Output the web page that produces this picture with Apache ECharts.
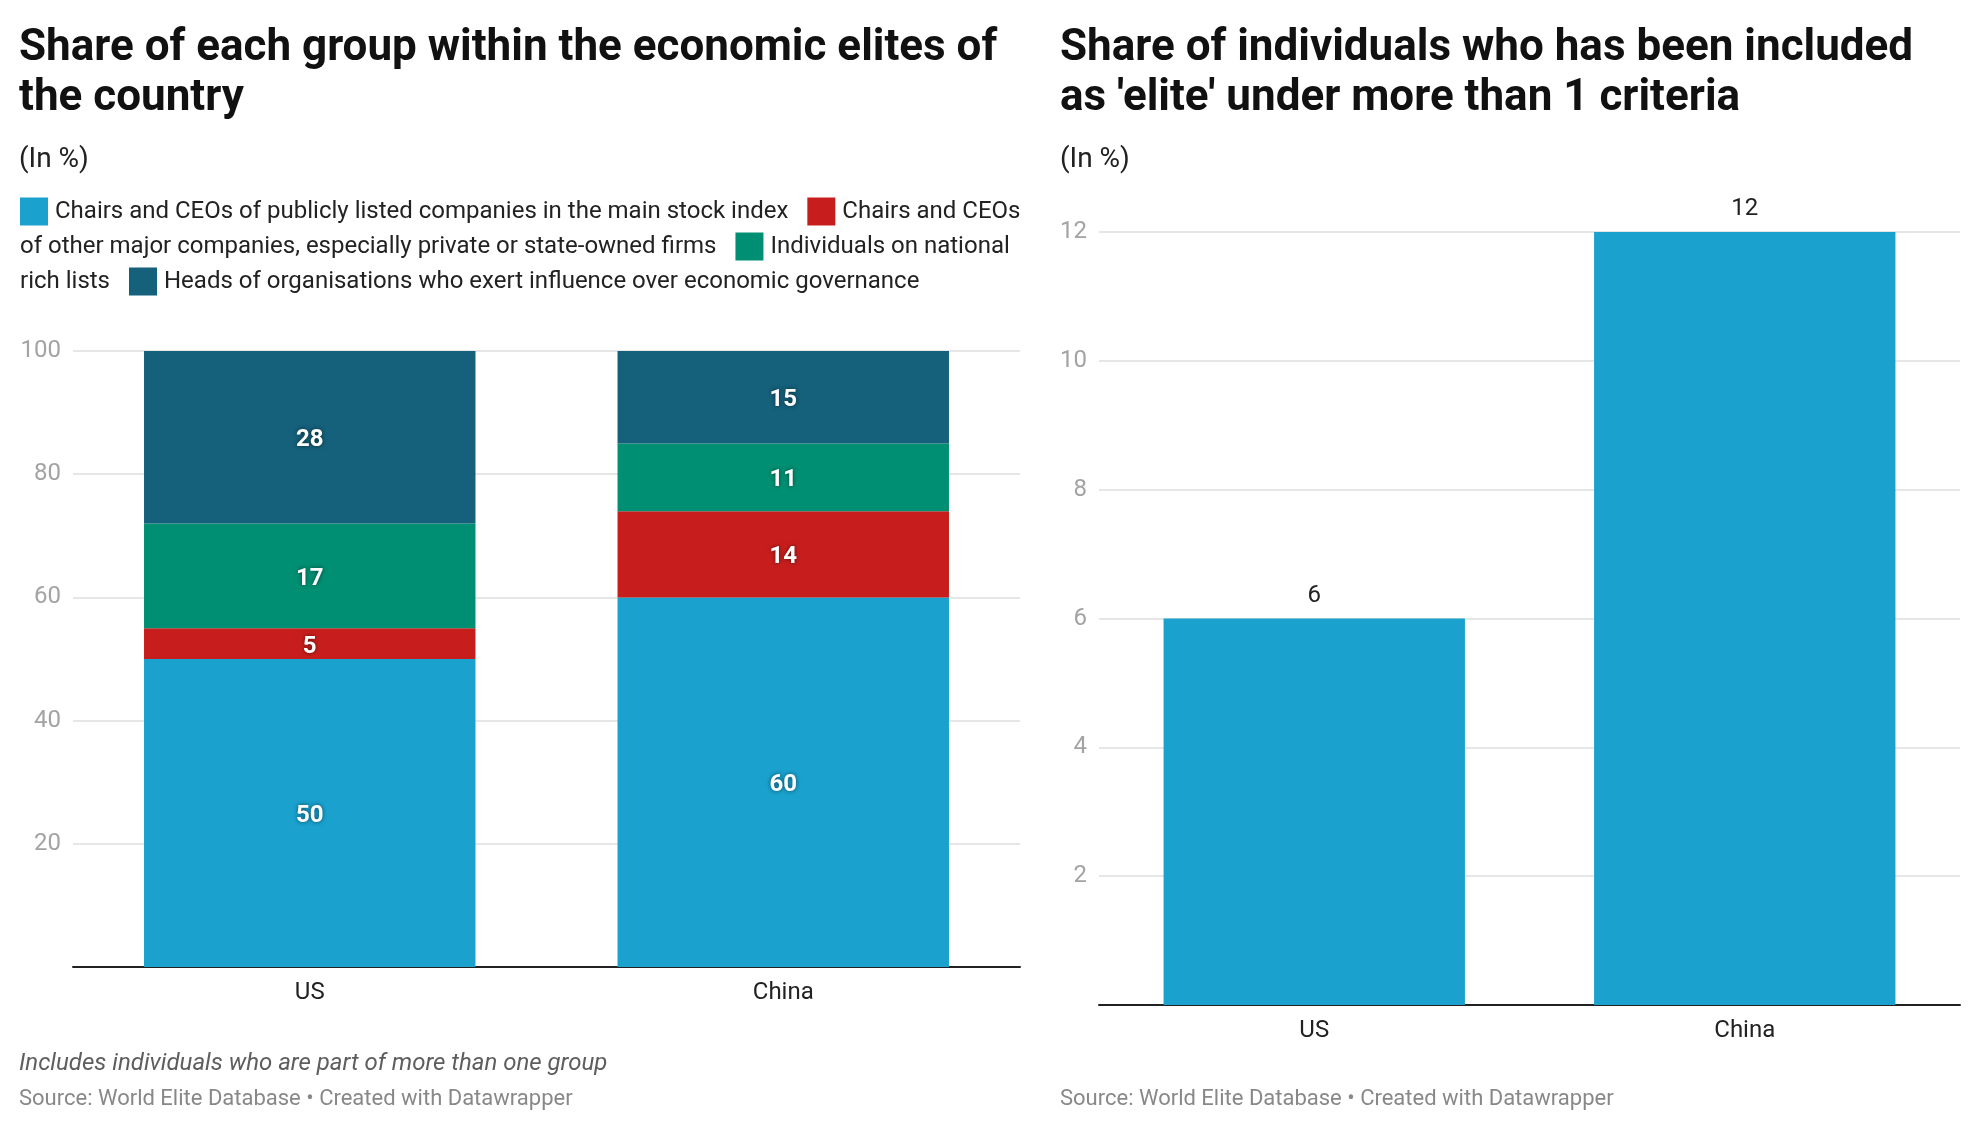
<!DOCTYPE html>
<html>
<head>
<meta charset="utf-8">
<script src="https://cdn.jsdelivr.net/npm/echarts@6/dist/echarts.min.js"></script>
<style>
  html, body { margin: 0; padding: 0; background: #fff; }
  #chart { width: 1980px; height: 1130px; }
</style>
</head>
<body>
<div id="chart"></div>
<script>
// data
const countries = ['US', 'China'];
const groupNames = [
  'Chairs and CEOs of publicly listed companies in the main stock index',
  'Chairs and CEOs of other major companies, especially private or state-owned firms',
  'Individuals on national rich lists',
  'Heads of organisations who exert influence over economic governance'
];
const listedCeos = [50, 60];
const otherCeos = [5, 14];
const richLists = [17, 11];
const orgHeads = [28, 15];
const multiCriteria = [6, 12];

const groupColors = ['#1aa1cd', '#c71e1d', '#008f72', '#15607a'];
const font = 'Roboto';

const chart = echarts.init(document.getElementById('chart'));

// legend squares as rich text blocks
const rich = { g1: { width: 7 }, g2: { width: 19 } };
groupColors.forEach((c, i) => {
  rich['s' + i] = { width: 28, height: 28, backgroundColor: c, verticalAlign: 'middle' };
});
const legendText = [
  '{s0|}{g1|}' + groupNames[0] + '{g2|}{s1|}{g1|}Chairs and CEOs',
  'of other major companies, especially private or state-owned firms{g2|}{s2|}{g1|}Individuals on national',
  'rich lists{g2|}{s3|}{g1|}' + groupNames[3]
].join('\n');

const stacked = [listedCeos, otherCeos, richLists, orgHeads].map((vals, i) => ({
  name: groupNames[i],
  type: 'bar',
  stack: 'elite',
  xAxisIndex: 0,
  yAxisIndex: 0,
  data: vals,
  barCategoryGap: '30%',
  itemStyle: { color: groupColors[i] },
  label: {
    show: true,
    position: 'inside',
    offset: [0, 3],
    color: '#fff',
    fontFamily: font,
    fontWeight: 'bold',
    fontSize: 24,
    textShadowColor: 'rgba(0,0,0,0.55)',
    textShadowBlur: 4
  }
}));

const titleStyle = { fontFamily: font, fontWeight: 'bold', fontSize: 44, lineHeight: 50, color: '#111' };
const subStyle = { fontFamily: font, fontWeight: 'normal', fontSize: 28, color: '#222' };
const sourceStyle = { fontFamily: font, fontWeight: 'normal', fontSize: 22, color: '#888' };

chart.setOption({
  animation: false,
  title: [
    { text: 'Share of each group within the economic elites of\nthe country', left: 14, top: 19, textStyle: titleStyle },
    { text: "Share of individuals who has been included\nas 'elite' under more than 1 criteria", left: 1055, top: 19, textStyle: titleStyle },
    { text: '(In %)', left: 14, top: 141, textStyle: subStyle },
    { text: '(In %)', left: 1055, top: 141, textStyle: subStyle },
    { text: 'Includes individuals who are part of more than one group', left: 14, top: 1047,
      textStyle: { fontFamily: font, fontStyle: 'italic', fontWeight: 'normal', fontSize: 24, color: '#5e5e5e' } },
    { text: 'Source: World Elite Database • Created with Datawrapper', left: 14, top: 1083, textStyle: sourceStyle },
    { text: 'Source: World Elite Database • Created with Datawrapper', left: 1055, top: 1083, textStyle: sourceStyle }
  ],
  graphic: [{
    type: 'text',
    left: 20,
    top: 194,
    style: {
      text: legendText,
      rich: rich,
      fontFamily: font,
      fontSize: 24,
      lineHeight: 35,
      fill: '#222'
    }
  }],
  grid: [
    { left: 73, right: 960, top: 351, bottom: 163 },
    { left: 1099, right: 20, top: 232, bottom: 125 }
  ],
  xAxis: [0, 1].map(i => ({
    type: 'category',
    gridIndex: i,
    data: countries,
    axisLine: { lineStyle: { color: '#222', width: 2 } },
    axisTick: { show: false },
    axisLabel: { color: '#222', fontFamily: font, fontSize: 24, margin: 14 }
  })),
  yAxis: [
    { type: 'value', gridIndex: 0, min: 0, max: 100, interval: 20 },
    { type: 'value', gridIndex: 1, min: 0, max: 12, interval: 2 }
  ].map(a => Object.assign(a, {
    axisLine: { show: false },
    axisTick: { show: false },
    axisLabel: { showMinLabel: false, color: '#a3a3a3', fontFamily: font, fontSize: 24, margin: 12 },
    splitLine: { lineStyle: { color: '#e6e6e6', width: 2 } }
  })),
  series: stacked.concat([{
    name: 'Multiple criteria',
    type: 'bar',
    xAxisIndex: 1,
    yAxisIndex: 1,
    data: multiCriteria,
    barCategoryGap: '30%',
    itemStyle: { color: groupColors[0] },
    label: {
      show: true,
      position: 'top',
      distance: 11,
      color: '#222',
      fontFamily: font,
      fontSize: 24
    }
  }])
});

window.addEventListener('resize', () => chart.resize());
</script>
</body>
</html>
